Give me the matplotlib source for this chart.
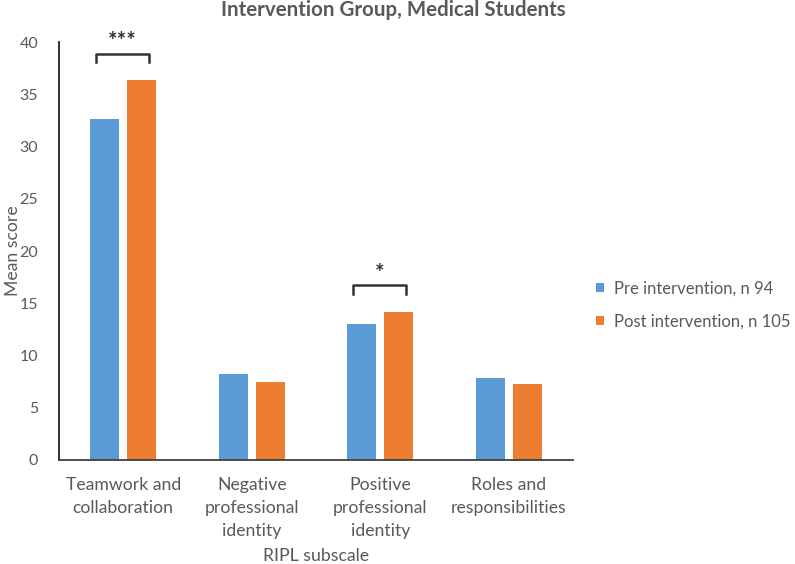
'''
RIPL subscale mean scores, pre vs post intervention (medical students).
'''
import numpy as np
import matplotlib.pyplot as plt

# Data
categories = ["Teamwork and\ncollaboration", "Negative\nprofessional\nidentity",
              "Positive\nprofessional\nidentity", "Roles and\nresponsibilities"]
pre_scores = [32.6, 8.2, 13.0, 7.8]
post_scores = [36.4, 7.5, 14.2, 7.3]
series_labels = ["Pre intervention, n 94", "Post intervention, n 105"]
y_ticks = [0, 5, 10, 15, 20, 25, 30, 35, 40]

# Significance brackets: (category index, stars)
significance = [(0, "***"), (2, "*")]

plt.rcParams['font.family'] = ['Lato', 'DejaVu Sans']
text_grey = "#595959"
blue = "#5B9BD5"
orange = "#ED7D31"

fig = plt.figure(figsize=(7.95, 5.64), dpi=100)
ax = fig.add_axes([0.0742, 0.1844, 0.6466, 0.7411])

x = np.arange(len(categories))
bar_width = 0.226
offset = 0.143
ax.bar(x - offset, pre_scores, bar_width, color=blue, label=series_labels[0])
ax.bar(x + offset, post_scores, bar_width, color=orange, label=series_labels[1])

ax.set_xlim(-0.5, len(categories) - 0.5)
ax.set_ylim(0, 40)
ax.set_yticks(y_ticks)
ax.set_xticks(x)
ax.set_xticklabels(categories, fontsize=12.7, color=text_grey, linespacing=1.55)
ax.tick_params(axis='y', labelsize=11.5, colors=text_grey, length=0, pad=15)
ax.tick_params(axis='x', length=0, pad=12)

for side in ["top", "right"]:
  ax.spines[side].set_visible(False)
ax.spines["left"].set_color("#222222")
ax.spines["bottom"].set_color("#404040")
ax.spines["left"].set_linewidth(1.3)
ax.spines["bottom"].set_linewidth(1.3)

# Draw significance brackets above the bar pairs
for index, stars in significance:
  top = max(pre_scores[index], post_scores[index]) + 2.5
  left = index - offset - 0.07
  right = index + offset + 0.06
  ax.plot([left, left, right, right], [top - 0.8, top, top, top - 0.8],
          color="#333333", linewidth=1.8, clip_on=False)
  ax.text((left + right) / 2, top + 0.1, stars, ha="center", va="bottom",
          fontsize=16, fontweight="bold", color="#333333")

ax.set_xlabel("RIPL subscale", fontsize=12.7, color=text_grey)
ax.xaxis.set_label_coords(0.5, -0.21)
ax.set_ylabel("Mean score", fontsize=12.7, color=text_grey)
ax.yaxis.set_label_coords(-0.074, 0.5)
fig.text(0.495, 0.982, "Intervention Group, Medical Students", ha="center", va="center",
         fontsize=14.8, fontweight="bold", color=text_grey)

ax.legend(loc="center left", bbox_to_anchor=(1.015, 0.371), frameon=False,
          fontsize=12, labelcolor=text_grey, handlelength=0.5, handleheight=0.5,
          handletextpad=0.6, labelspacing=1.0)

fig.savefig("out.png", dpi=100)
